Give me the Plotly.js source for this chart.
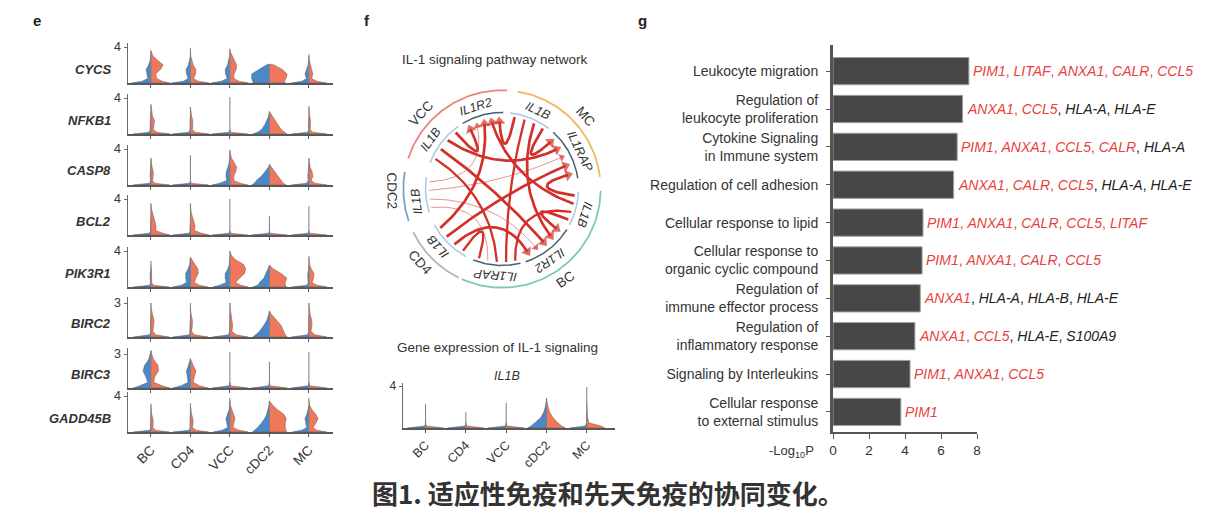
<!DOCTYPE html>
<html><head><meta charset="utf-8">
<script src="https://cdn.plot.ly/plotly-3.0.1.min.js"></script>
<style>html,body{margin:0;padding:0;background:#fff;}#chart{width:1211px;height:532px;}</style>
</head><body><div id="chart"></div>
<script>
const W = 1211, H = 532;
const FONT = 'Liberation Sans, Arial, sans-serif';

// ---------------- Panel e : split violins ----------------
const cellTypes = ['BC', 'CD4', 'VCC', 'cDC2', 'MC'];
const genesE = ['CYCS', 'NFKB1', 'CASP8', 'BCL2', 'PIK3R1', 'BIRC2', 'BIRC3', 'GADD45B'];
const geneTopTick = [4, 4, 4, 4, 4, 3, 3, 4];
const levels = [0, 0.2, 0.5, 1.0, 1.5, 2.0, 2.5, 3.0, 3.5];
const SPIKE = [0.45, 0.02, 0, 0, 0, 0, 0, 0, 0];

const maxCYCS = [3.6, 3.9, 3.8, 2.1, 3.2];
const blueCYCS = [[0.49,0.22,0.08,0.10,0.12,0.06,0.02,0.01,0],[0.47,0.18,0.06,0.10,0.11,0.05,0.02,0,0],[0.47,0.22,0.07,0.11,0.12,0.06,0.03,0.01,0],[0.42,0.42,0.45,0.45,0.28,0.08,0,0,0],[0.45,0.18,0.06,0.10,0.06,0.02,0.01,0,0]];
const redCYCS = [[0.48,0.28,0.15,0.12,0.24,0.31,0.18,0.05,0.01],[0.47,0.2,0.08,0.13,0.14,0.07,0.03,0.01,0],[0.47,0.23,0.10,0.10,0.16,0.17,0.12,0.05,0.01],[0.40,0.38,0.42,0.45,0.33,0.12,0,0,0],[0.45,0.2,0.07,0.10,0.07,0.03,0.01,0,0]];

const maxNFKB1 = [3.3, 3.0, 4.1, 2.5, 3.1];
const blueNFKB1 = [[0.45,0.05,0.02,0.02,0.02,0.01,0,0,0],[0.45,0.04,0.01,0.01,0.01,0,0,0,0],SPIKE,[0.42,0.30,0.20,0.12,0.06,0.02,0,0,0],[0.44,0.03,0.01,0.01,0.01,0,0,0,0]];
const redNFKB1 = [[0.48,0.15,0.06,0.08,0.09,0.04,0.02,0.01,0],[0.47,0.12,0.05,0.06,0.06,0.03,0.01,0,0],SPIKE,[0.45,0.38,0.30,0.22,0.14,0.06,0.02,0,0],[0.45,0.10,0.03,0.04,0.04,0.02,0.01,0,0]];

const maxCASP8 = [3.0, 3.3, 3.9, 2.3, 3.0];
const blueCASP8 = [[0.45,0.03,0.01,0.02,0.02,0.01,0,0,0],SPIKE,[0.45,0.26,0.08,0.10,0.09,0.05,0.02,0.01,0],[0.45,0.38,0.33,0.20,0.10,0.02,0,0,0],[0.45,0.06,0.02,0.03,0.02,0.01,0,0,0]];
const redCASP8 = [[0.47,0.10,0.04,0.06,0.06,0.03,0.01,0,0],SPIKE,[0.45,0.26,0.10,0.10,0.15,0.17,0.10,0.04,0.01],[0.42,0.35,0.30,0.20,0.12,0.04,0,0,0],[0.46,0.15,0.06,0.10,0.08,0.03,0.01,0,0]];

const maxBCL2 = [3.5, 3.5, 4.0, 2.1, 3.2];
const blueBCL2 = [[0.45,0.04,0.01,0.01,0.01,0,0,0,0],[0.45,0.03,0.01,0.01,0,0,0,0,0],SPIKE,SPIKE,SPIKE];
const redBCL2 = [[0.48,0.30,0.12,0.13,0.10,0.06,0.03,0.01,0],[0.47,0.28,0.10,0.12,0.09,0.05,0.02,0.01,0],SPIKE,SPIKE,SPIKE];

const maxPIK3R1 = [2.9, 3.3, 4.0, 2.45, 3.4];
const bluePIK3R1 = [[0.44,0.03,0.01,0.02,0.02,0,0,0,0],[0.45,0.23,0.10,0.12,0.12,0.06,0.02,0.01,0],[0.43,0.26,0.10,0.12,0.12,0.05,0.02,0.01,0],[0.42,0.30,0.25,0.14,0.08,0.04,0.01,0,0],[0.44,0.05,0.02,0.03,0.03,0.01,0,0,0]];
const redPIK3R1 = [[0.46,0.06,0.02,0.02,0.02,0.01,0,0,0],[0.45,0.23,0.10,0.14,0.20,0.19,0.12,0.05,0.01],[0.46,0.28,0.14,0.25,0.37,0.40,0.35,0.15,0.04],[0.44,0.40,0.40,0.44,0.30,0.10,0,0,0],[0.46,0.20,0.08,0.12,0.13,0.06,0.02,0.01,0]];

const maxBIRC2 = [3.0, 3.0, 3.0, 2.3, 3.0];
const blueBIRC2 = [[0.44,0.03,0.01,0.01,0.01,0,0,0,0],[0.44,0.02,0.01,0.01,0,0,0,0,0],[0.44,0.03,0.01,0.01,0.01,0,0,0,0],[0.42,0.35,0.25,0.15,0.06,0.02,0,0,0],[0.44,0.03,0.01,0.01,0.01,0,0,0,0]];
const redBIRC2 = [[0.46,0.12,0.05,0.07,0.08,0.04,0.01,0,0],[0.45,0.10,0.03,0.05,0.05,0.02,0,0,0],[0.46,0.15,0.05,0.07,0.05,0.02,0.01,0,0],[0.45,0.40,0.36,0.30,0.18,0.05,0,0,0],[0.46,0.15,0.05,0.08,0.07,0.03,0.01,0,0]];

const maxBIRC3 = [3.3, 2.6, 3.2, 2.3, 3.2];
const blueBIRC3 = [[0.45,0.28,0.08,0.13,0.20,0.16,0.06,0.02,0],[0.45,0.23,0.06,0.08,0.10,0.05,0.01,0,0],SPIKE,SPIKE,SPIKE];
const redBIRC3 = [[0.48,0.28,0.07,0.10,0.19,0.18,0.07,0.02,0],[0.45,0.23,0.07,0.10,0.14,0.07,0.02,0,0],SPIKE,SPIKE,SPIKE];

const maxGADD45B = [3.15, 3.2, 3.8, 3.45, 3.8];
const blueGADD45B = [[0.44,0.03,0.01,0.01,0.01,0,0,0,0],[0.44,0.03,0.01,0.01,0.01,0,0,0,0],[0.42,0.2,0.06,0.08,0.10,0.06,0.02,0.01,0],[0.43,0.38,0.30,0.20,0.12,0.07,0.03,0.01,0],[0.42,0.18,0.06,0.08,0.10,0.05,0.02,0,0]];
const redGADD45B = [[0.46,0.12,0.05,0.06,0.05,0.02,0.01,0,0],[0.46,0.14,0.05,0.07,0.06,0.03,0.01,0,0],[0.46,0.23,0.08,0.10,0.13,0.09,0.04,0.01,0],[0.44,0.42,0.40,0.40,0.43,0.36,0.20,0.08,0.02],[0.45,0.2,0.10,0.18,0.23,0.17,0.07,0.02,0]];

// ---------------- Panel f : IL1B violin ----------------
const maxIL1B = [2.3, 1.5, 2.4, 2.85, 3.9];
const blueIL1B = [SPIKE,SPIKE,SPIKE,[0.47,0.38,0.28,0.14,0.07,0.03,0.01,0,0],[0.42,0.04,0.01,0.01,0,0,0,0,0]];
const redIL1B = [SPIKE,SPIKE,SPIKE,[0.47,0.38,0.28,0.16,0.08,0.04,0.01,0,0],[0.45,0.35,0.05,0.02,0.01,0.01,0,0,0]];

// ---------------- Panel f : chord diagram ----------------
const sectorNames = ['VCC', 'MC', 'BC', 'CD4', 'CDC2'];
const sectorStart = [162, 81, -1, 244, 199];
const sectorEnd = [87, 7, -114, 206, 170];
const sectorColors = ['#eb8479', '#f1b864', '#7ccab5', '#b5b5b5', '#74a4ce'];
const sectorLabelAngle = [137, 41, -55, 222, 181];

const segSector = ['VCC', 'VCC', 'MC', 'MC', 'BC', 'BC', 'BC', 'CD4', 'CDC2'];
const segGene = ['IL1B', 'IL1R2', 'IL1B', 'IL1RAP', 'IL1B', 'IL1R2', 'IL1RAP', 'IL1B', 'IL1B'];
const segStart = [160, 121, 84, 48, -2, -32, -76, 242, 198];
const segEnd = [125, 89, 52, 8, -28, -72, -112, 208, 171];
const segLabelAngle = [145, 108, 65, 26, -17, -56, -95, 222, 188];

const chordSource = ['VCC','VCC','VCC','VCC','MC','MC','MC','MC','BC','BC','BC','BC','CD4','CD4','CD4','CD4','CDC2','CDC2','CDC2','CDC2'];
const chordTarget = ['VCC-IL1R2','MC-IL1RAP','BC-IL1R2','BC-IL1RAP','VCC-IL1R2','MC-IL1RAP','BC-IL1R2','BC-IL1RAP','VCC-IL1R2','MC-IL1RAP','BC-IL1R2','BC-IL1RAP','VCC-IL1R2','MC-IL1RAP','BC-IL1R2','BC-IL1RAP','VCC-IL1R2','MC-IL1RAP','BC-IL1R2','BC-IL1RAP'];
const chordWidth = [2.7,2.7,2.7,2.3, 2.7,2.7,2.7,2.3, 2.7,2.7,2.7,2.3, 2.7,2.7,2.7,2.3, 1.0,1.0,1.0,1.0];
const arrowTargets = ['VCC-IL1R2', 'MC-IL1RAP', 'BC-IL1R2'];

// ---------------- Panel g : enrichment bars ----------------
const pathways = ['Leukocyte migration','Regulation of<br>leukocyte proliferation','Cytokine Signaling<br>in Immune system','Regulation of cell adhesion','Cellular response to lipid','Cellular response to<br>organic cyclic compound','Regulation of<br>immune effector process','Regulation of<br>inflammatory response','Signaling by Interleukins','Cellular response<br>to external stimulus'];
const negLog10P = [7.55, 7.2, 6.9, 6.7, 5.0, 4.95, 4.85, 4.55, 4.28, 3.77];
const redGenes = [['PIM1','LITAF','ANXA1','CALR','CCL5'],['ANXA1','CCL5'],['PIM1','ANXA1','CCL5','CALR'],['ANXA1','CALR','CCL5'],['PIM1','ANXA1','CALR','CCL5','LITAF'],['PIM1','ANXA1','CALR','CCL5'],['ANXA1'],['ANXA1','CCL5'],['PIM1','ANXA1','CCL5'],['PIM1']];
const blackGenes = [[],['HLA-A','HLA-E'],['HLA-A'],['HLA-A','HLA-E'],[],[],['HLA-A','HLA-B','HLA-E'],['HLA-E','S100A9'],[],[]];
const xTicksG = [0, 2, 4, 6, 8];

// =========================================================
const maxTable = {CYCS:maxCYCS,NFKB1:maxNFKB1,CASP8:maxCASP8,BCL2:maxBCL2,PIK3R1:maxPIK3R1,BIRC2:maxBIRC2,BIRC3:maxBIRC3,GADD45B:maxGADD45B};
const blueTable = {CYCS:blueCYCS,NFKB1:blueNFKB1,CASP8:blueCASP8,BCL2:blueBCL2,PIK3R1:bluePIK3R1,BIRC2:blueBIRC2,BIRC3:blueBIRC3,GADD45B:blueGADD45B};
const redTable = {CYCS:redCYCS,NFKB1:redNFKB1,CASP8:redCASP8,BCL2:redBCL2,PIK3R1:redPIK3R1,BIRC2:redBIRC2,BIRC3:redBIRC3,GADD45B:redGADD45B};

const px = x => x / W, py = y => 1 - y / H;
const axName = (p, k) => p + (k === 1 ? '' : k);
const traces = [], annotations = [];
const BLUE = '#4b88c9', RED = '#f2765a';

function halfViolin(c, widths, mx, side, k, color) {
  const xs = [c], ys = [0];
  let last = -1;
  widths.forEach((w, i) => { if (w > 0 && levels[i] < mx) last = i; });
  for (let i = 0; i <= last; i++) { xs.push(c + side * widths[i]); ys.push(levels[i]); }
  const topY = last + 1 < levels.length ? Math.min(levels[last + 1], mx) : mx;
  xs.push(c); ys.push(topY);
  traces.push({type:'scatter', mode:'lines', x:xs, y:ys, fill:'toself', fillcolor:color,
    line:{color:'rgba(85,85,85,0.75)', width:0.6}, xaxis:axName('x',k), yaxis:axName('y',k), hoverinfo:'skip', showlegend:false});
}
function violinRow(maxArr, blueArr, redArr, k) {
  const sx = [], sy = [];
  cellTypes.forEach((ct, c) => {
    halfViolin(c, blueArr[c], maxArr[c], -1, k, BLUE);
    halfViolin(c, redArr[c], maxArr[c], 1, k, RED);
    sx.push(c, c, null); sy.push(0, maxArr[c], null);
  });
  traces.push({type:'scatter', mode:'lines', x:sx, y:sy, line:{color:'#7d7d7d', width:1},
    xaxis:axName('x',k), yaxis:axName('y',k), hoverinfo:'skip', showlegend:false});
}

const layout = {width:W, height:H, margin:{l:0,r:0,t:0,b:0}, paper_bgcolor:'#fff', plot_bgcolor:'rgba(0,0,0,0)',
  showlegend:false, font:{family:FONT, color:'#333'}, annotations:annotations};

const rowBase = [83, 134, 185, 235, 287, 337, 388, 432];
genesE.forEach((g, i) => {
  const k = i + 1, tick = geneTopTick[i];
  const top = tick * 40 / (tick === 4 ? 36 : 34);
  layout[axName('xaxis',k)] = {domain:[px(128), px(333)], range:[-0.58, 4.61], anchor:axName('y',k),
    showline:true, linecolor:'#595959', linewidth:2, ticks:'outside', ticklen:3, tickcolor:'#595959',
    tickvals:[0,1,2,3,4], ticktext:cellTypes, showticklabels:i === 7, tickangle:-45,
    tickfont:{size:13.5, color:'#333', family:FONT}, showgrid:false, zeroline:false, fixedrange:true};
  layout[axName('yaxis',k)] = {domain:[py(rowBase[i]), py(rowBase[i] - 40)], range:[0, top], anchor:axName('x',k),
    showline:true, linecolor:'#6a6a6a', linewidth:1.5, ticks:'outside', ticklen:3, tickcolor:'#6a6a6a',
    tickvals:[tick], ticktext:[String(tick)], tickfont:{size:12.5, color:'#333', family:FONT},
    showgrid:false, zeroline:false, fixedrange:true};
  violinRow(maxTable[g], blueTable[g], redTable[g], k);
  annotations.push({xref:'paper', yref:'paper', x:px(113), y:py(rowBase[i] - 14), xanchor:'right', yanchor:'middle',
    text:'<b><i>' + g + '</i></b>', showarrow:false, font:{size:13, color:'#333', family:FONT}});
});

// IL1B violin (axis 9)
layout.xaxis9 = {domain:[px(403), px(615)], range:[-0.56, 4.7], anchor:'y9', showline:true, linecolor:'#595959', linewidth:2,
  ticks:'outside', ticklen:3, tickcolor:'#595959', tickvals:[0,1,2,3,4], ticktext:cellTypes, tickangle:-45,
  tickfont:{size:12.5, color:'#333', family:FONT}, showgrid:false, zeroline:false};
layout.yaxis9 = {domain:[py(428), py(383)], range:[0, 4.29], anchor:'x9', showline:true, linecolor:'#6a6a6a', linewidth:1.5,
  ticks:'outside', ticklen:3, tickcolor:'#6a6a6a', tickvals:[4], ticktext:['4'], tickfont:{size:12, color:'#333', family:FONT},
  showgrid:false, zeroline:false};
violinRow(maxIL1B, blueIL1B, redIL1B, 9);

// chord diagram (axis 10)
layout.xaxis10 = {domain:[px(389.5), px(614.5)], range:[-1.14, 1.14], anchor:'y10', visible:false};
layout.yaxis10 = {domain:[py(301.5), py(76.5)], range:[-1.14, 1.14], anchor:'x10', visible:false};
const rad = d => d * Math.PI / 180;
function arc(a0, a1, r, color, width) {
  const xs = [], ys = [], n = 60;
  for (let i = 0; i <= n; i++) { const a = rad(a0 + (a1 - a0) * i / n); xs.push(r * Math.cos(a)); ys.push(r * Math.sin(a)); }
  traces.push({type:'scatter', mode:'lines', x:xs, y:ys, line:{color:color, width:width}, xaxis:'x10', yaxis:'y10', hoverinfo:'skip'});
}
function niceAngle(t) { while (t > 180) t -= 360; while (t <= -180) t += 360; return t; }
sectorNames.forEach((s, i) => {
  arc(sectorStart[i], sectorEnd[i], 1.0, sectorColors[i], 1.8);
  const th = sectorLabelAngle[i];
  const thn = ((th % 360) + 360) % 360;
  let t = 90 - th; if (thn > 180) t += 180;
  annotations.push({xref:'x10', yref:'y10', x:1.12 * Math.cos(rad(th)), y:1.12 * Math.sin(rad(th)), text:s, showarrow:false,
    textangle:niceAngle(t), font:{size:13.5, color:'#333', family:FONT}, xanchor:'center', yanchor:'middle'});
});
const segKey = segSector.map((s, i) => s + '-' + segGene[i]);
segKey.forEach((key, i) => {
  arc(segStart[i], segEnd[i], 0.775, segGene[i] === 'IL1B' ? '#a9c7e4' : '#46606e', 1.5);
  const th = segLabelAngle[i];
  annotations.push({xref:'x10', yref:'y10', x:0.875 * Math.cos(rad(th)), y:0.875 * Math.sin(rad(th)), text:'<i>' + segGene[i] + '</i>',
    showarrow:false, textangle:niceAngle(90 - th), font:{size:12.5, color:'#333', family:FONT}, xanchor:'center', yanchor:'middle'});
});
// endpoints
const segMid = i => (segStart[i] + segEnd[i]) / 2;
const ends = {}; segKey.forEach(k => ends[k] = []);
chordSource.forEach((s, c) => {
  const a = segKey.indexOf(s + '-IL1B'), b = segKey.indexOf(chordTarget[c]);
  ends[segKey[a]].push({c:c, role:'s', other:segMid(b)});
  ends[segKey[b]].push({c:c, role:'t', other:segMid(a)});
});
const endAngle = {};
segKey.forEach((key, i) => {
  const list = ends[key], m = segMid(i);
  list.forEach(e => e.delta = (((e.other - m) % 360) + 360) % 360);
  list.sort((p, q) => p.delta - q.delta);
  list.forEach((e, k) => { endAngle[e.c + e.role] = segStart[i] + (segEnd[i] - segStart[i]) * (k + 0.5) / list.length; });
});
const arrowX = [], arrowY = [], arrowA = [], arrowS = [];
chordSource.forEach((s, c) => {
  const hasArrow = arrowTargets.includes(chordTarget[c]);
  const a0 = rad(endAngle[c + 's']), a1 = rad(endAngle[c + 't']);
  const r0 = 0.74, r1 = hasArrow ? 0.685 : 0.74;
  const P0 = [r0 * Math.cos(a0), r0 * Math.sin(a0)], P2 = [r1 * Math.cos(a1), r1 * Math.sin(a1)];
  const P1 = [(P0[0] + P2[0]) * 0.5 * 0.3, (P0[1] + P2[1]) * 0.5 * 0.3];
  const xs = [], ys = [];
  for (let i = 0; i <= 40; i++) {
    const t = i / 40, u = 1 - t;
    xs.push(u * u * P0[0] + 2 * u * t * P1[0] + t * t * P2[0]);
    ys.push(u * u * P0[1] + 2 * u * t * P1[1] + t * t * P2[1]);
  }
  const thin = chordWidth[c] < 1.5;
  const col = thin ? 'rgba(214,60,50,0.55)' : '#d3302a';
  traces.push({type:'scatter', mode:'lines', x:xs, y:ys, line:{color:col, width:chordWidth[c]}, xaxis:'x10', yaxis:'y10', hoverinfo:'skip'});
  if (hasArrow) {
    const dx = P2[0] - P1[0], dy = P2[1] - P1[1];
    const phi = Math.atan2(dy, dx) * 180 / Math.PI;
    arrowX.push(P2[0]); arrowY.push(P2[1]); arrowA.push(90 - phi); arrowS.push(thin ? 7 : 10);
  }
});
traces.push({type:'scatter', mode:'markers', x:arrowX, y:arrowY, marker:{symbol:'triangle-up', size:arrowS, angle:arrowA, color:'#d3302a', line:{width:0}},
  xaxis:'x10', yaxis:'y10', hoverinfo:'skip'});

// bars (axis 11)
layout.xaxis11 = {domain:[px(833), px(977)], range:[0, 8], anchor:'y11', showline:true, linecolor:'#555', linewidth:1.5,
  ticks:'outside', ticklen:5, tickcolor:'#555', tickvals:xTicksG, tickfont:{size:13.5, color:'#333', family:FONT}, showgrid:false, zeroline:false};
layout.yaxis11 = {domain:[py(432), py(45)], range:[9.53, -0.69], anchor:'x11', showline:true, linecolor:'#555', linewidth:3,
  ticks:'outside', ticklen:4, tickcolor:'#555', tickvals:pathways.map((p, i) => i), ticktext:pathways, ticklabelstandoff:5,
  tickfont:{size:14, color:'#333', family:FONT}, showgrid:false, zeroline:false};
traces.push({type:'bar', orientation:'h', x:negLog10P, y:pathways.map((p, i) => i), width:0.72,
  marker:{color:'#474747', line:{color:'#a0a0a0', width:1}}, xaxis:'x11', yaxis:'y11', hoverinfo:'skip'});
negLog10P.forEach((v, i) => {
  const RC = '#e8413c';
  let txt = redGenes[i].map(g => '<i>' + g + '</i>').join(', ');
  txt = '<span style="color:' + RC + '">' + txt + '</span>';
  if (blackGenes[i].length) txt += ', ' + blackGenes[i].map(g => '<i>' + g + '</i>').join(', ');
  annotations.push({xref:'x11', yref:'y11', x:v, y:i, xanchor:'left', yanchor:'middle', xshift:2, text:txt, showarrow:false,
    font:{size:14, color:'#222', family:FONT}});
});

// text annotations
const txt = (x, y, t, size, opts) => annotations.push(Object.assign({xref:'paper', yref:'paper', x:px(x), y:py(y), text:t, showarrow:false,
  font:{size:size, color:'#333', family:FONT}, xanchor:'center', yanchor:'middle'}, opts || {}));
txt(37, 20, '<b>e</b>', 15, {font:{size:15, color:'#222', family:FONT}});
txt(367, 20, '<b>f</b>', 15, {font:{size:15, color:'#222', family:FONT}});
txt(642, 20, '<b>g</b>', 15, {font:{size:15, color:'#222', family:FONT}});
txt(495, 60, 'IL-1 signaling pathway network', 13.5);
txt(497, 347, 'Gene expression of IL-1 signaling', 13.5);
txt(507, 376, '<i>IL1B</i>', 12.5);
txt(816, 451, '-Log<sub>10</sub>P', 13, {xanchor:'right'});
txt(608, 492, '<b>图1. 适应性免疫和先天免疫的协同变化。</b>', 26, {font:{size:26, color:'#333', family:'Noto Sans CJK SC, sans-serif'}});

Plotly.newPlot('chart', traces, layout, {staticPlot:true, displayModeBar:false});
</script></body></html>
